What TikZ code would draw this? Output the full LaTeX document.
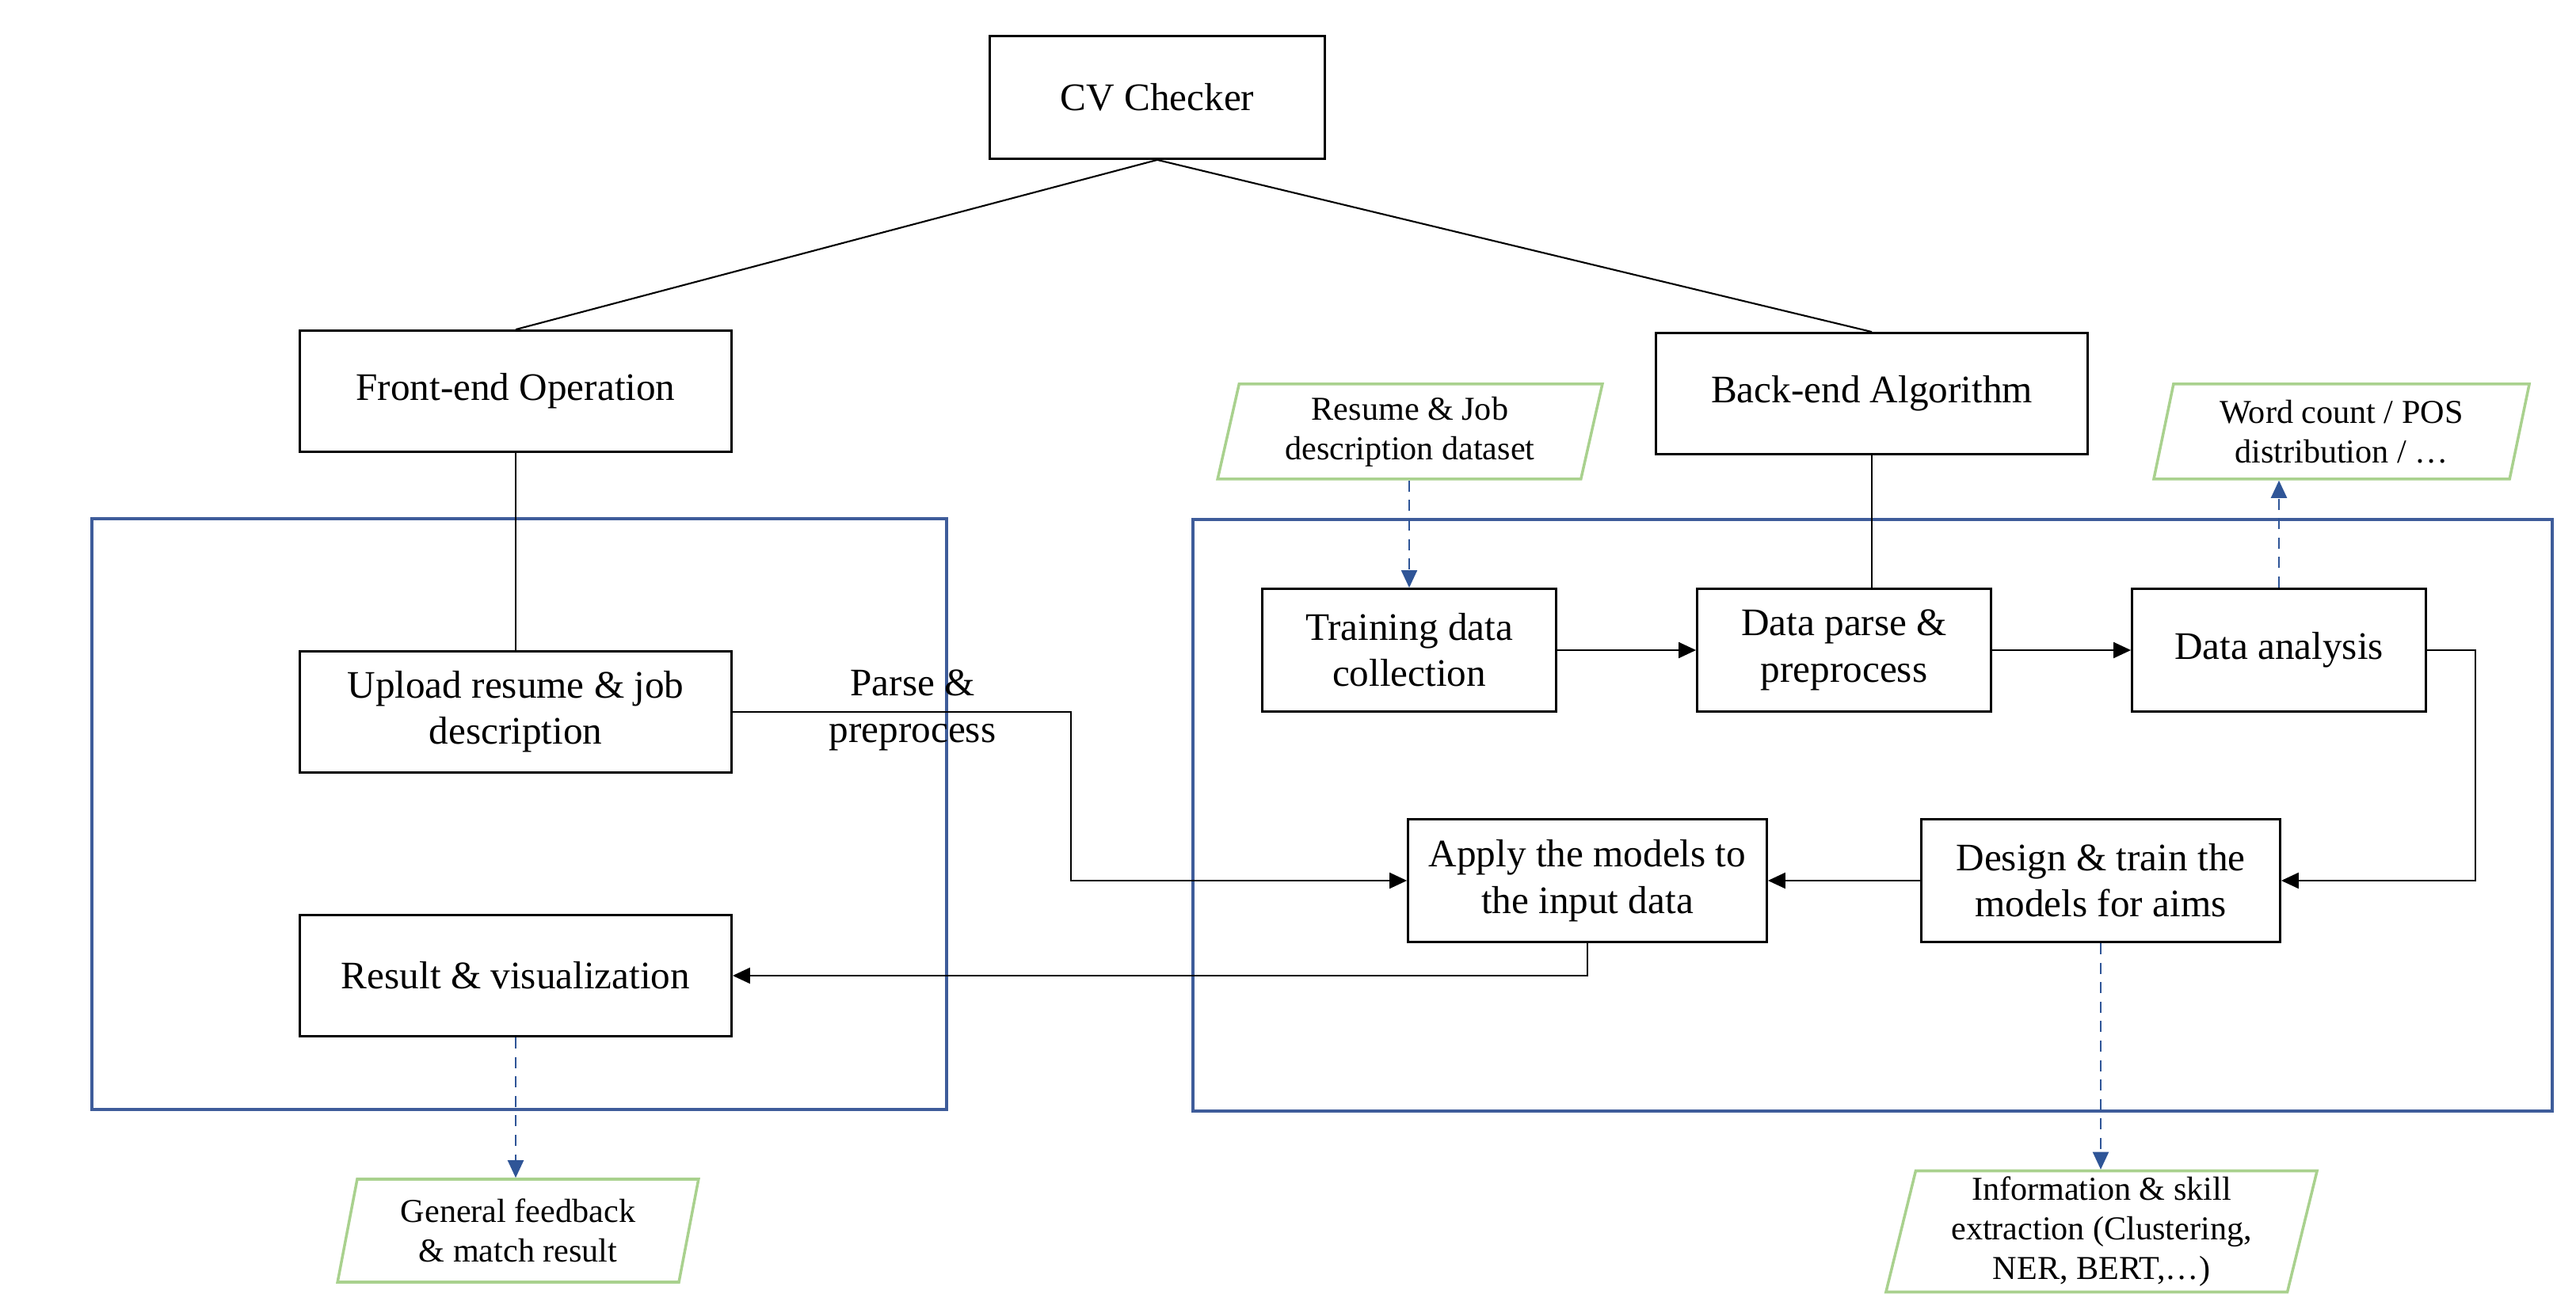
\documentclass[tikz,border=0pt]{standalone}
\usepackage{fontspec}
\setmainfont{Liberation Serif}
\usetikzlibrary{arrows.meta,shapes.geometric,positioning}
\definecolor{framblue}{HTML}{3E5C9A}
\definecolor{dashblue}{HTML}{2F5597}
\definecolor{iogreen}{HTML}{A9D18E}
\begin{document}
\begin{tikzpicture}[
    box/.style={draw,line width=0.8pt,align=center,minimum width=5.45cm,minimum height=1.53cm,
        font=\fontsize{14}{16.6}\selectfont},
    smallbox/.style={box,minimum width=3.71cm,minimum height=1.55cm},
    widebox/.style={box,minimum width=4.53cm,minimum height=1.55cm},
    dataio/.style={draw=iogreen,line width=1pt,trapezium,trapezium left angle=78,trapezium right angle=102,
        trapezium stretches=true,align=center,inner sep=1pt,font=\fontsize{12}{14.2}\selectfont},
    frame/.style={draw=framblue,line width=1pt},
    flow/.style={-{Triangle[length=0.22cm,width=0.2cm]},line width=0.6pt},
    hint/.style={-{Triangle[length=0.22cm,width=0.2cm]},dashblue,dashed,line width=0.6pt,dash pattern=on 4pt off 3pt}
]
\useasboundingbox (0,0) rectangle (32.52,-16.58);

    % Frames
    \draw[frame] (1.16,-6.55) rectangle (11.95,-14.01);
    \draw[frame] (15.06,-6.56) rectangle (32.22,-14.03);

    % Tree
    \node[box,minimum width=4.23cm,minimum height=1.55cm] (cv) at (14.61,-1.23) {CV Checker};
    \node[box] (front) at (6.51,-4.94) {Front-end Operation};
    \node[box] (back) at (23.63,-4.97) {Back-end Algorithm};
    \draw[line width=0.6pt] (cv.south) -- (front.north);
    \draw[line width=0.6pt] (cv.south) -- (back.north);

    % Front-end steps
    \node[box] (upload) at (6.51,-8.99) {Upload resume \& job\\description};
    \node[box] (result) at (6.51,-12.32) {Result \& visualization};
    \draw[line width=0.6pt] (front.south) -- (upload.north);

    % Back-end steps
    \node[smallbox] (collect) at (17.79,-8.21) {Training data\\collection};
    \node[smallbox] (parse) at (23.28,-8.21) {Data parse \&\\preprocess};
    \node[smallbox] (analysis) at (28.77,-8.21) {Data analysis};
    \node[widebox] (apply) at (20.04,-11.12) {Apply the models to\\the input data};
    \node[widebox] (design) at (26.52,-11.12) {Design \& train the\\models for aims};
    \draw[line width=0.6pt] (back.south) -- (back.south |- parse.north);

    % Flow
    \coordinate (jogA) at (13.52,-8.99);
    \coordinate (jogB) at (31.25,-8.21);
    \draw[flow] (collect) -- (parse);
    \draw[flow] (parse) -- (analysis);
    \draw[flow] (analysis.east) -- (jogB) |- (design.east);
    \draw[flow] (design) -- (apply);
    \draw[flow] (upload.east) -- (jogA) |- (apply.west);
    \draw[flow] (apply.south) |- (result.east);
    \node[align=center,font=\fontsize{14}{16.6}\selectfont] (parselbl) at (11.52,-8.97) {Parse \&\\preprocess};

    % Data in / out
    \node[dataio,minimum width=4.86cm,minimum height=1.20cm] (dataset) at (17.80,-5.45) {Resume \& Job\\description dataset};
    \node[dataio,minimum width=4.75cm,minimum height=1.20cm] (stats) at (29.56,-5.45) {Word count / POS\\distribution / …};
    \node[dataio,minimum width=4.57cm,minimum height=1.30cm] (feedback) at (6.54,-15.54) {General feedback\\\& match result};
    \node[dataio,minimum width=5.45cm,minimum height=1.53cm] (skills) at (26.53,-15.55) {Information \& skill\\extraction (Clustering,\\NER, BERT,…)};
    \draw[hint] (collect.north |- dataset.south) -- (collect.north);
    \draw[hint] (analysis.north) -- (analysis.north |- stats.south);
    \draw[hint] (result.south) -- (result.south |- feedback.north);
    \draw[hint] (design.south) -- (design.south |- skills.north);

\end{tikzpicture}
\end{document}
